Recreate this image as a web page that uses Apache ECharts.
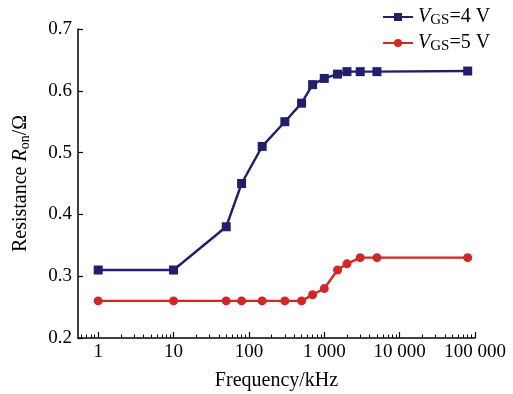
<!DOCTYPE html>
<html><head><meta charset="utf-8">
<script src="https://cdn.jsdelivr.net/npm/echarts@6/dist/echarts.min.js"></script>
<style>html,body{margin:0;padding:0;background:#fff}#c{width:513px;height:394px}</style>
</head><body><div id="c"></div>
<script>
const freqs = [1, 10, 50, 80, 150, 300, 500, 700, 1000, 1500, 2000, 3000, 5000, 80000];
const vgs4 = [0.31, 0.31, 0.38, 0.45, 0.51, 0.55, 0.58, 0.61, 0.62, 0.627, 0.631, 0.631, 0.631, 0.632];
const vgs5 = [0.26, 0.26, 0.26, 0.26, 0.26, 0.26, 0.26, 0.27, 0.28, 0.31, 0.32, 0.33, 0.33, 0.33];
const xMajor = [1, 10, 100, 1000, 10000, 100000];
const xLabels = ['1', '10', '100', '1 000', '10 000', '100 000'];
const yTicks = [0.2, 0.3, 0.4, 0.5, 0.6, 0.7];

const xMinor = [];
[0.1, 1, 10, 100, 1000, 10000].forEach(d => { for (let k = 2; k <= 9; k++) { const v = +(d * k).toPrecision(3); if (v > 0.55) xMinor.push(v); } });

const FONT = 'Liberation Serif';
const chart = echarts.init(document.getElementById('c'));
const labelMap = {}; xMajor.forEach((v, i) => labelMap[v] = xLabels[i]);
const legRich = {
  i: { fontFamily: FONT, fontSize: 20, fontStyle: 'italic', color: '#000' },
  s: { fontFamily: FONT, fontSize: 15, color: '#000', padding: [7, 0, 0, 0] },
  n: { fontFamily: FONT, fontSize: 20, color: '#000' }
};
const titleRich = {
  i: { fontFamily: FONT, fontSize: 20, fontStyle: 'italic', color: '#000' },
  s: { fontFamily: FONT, fontSize: 14, color: '#000', padding: [8, 0, 0, 0] },
  n: { fontFamily: FONT, fontSize: 20, color: '#000' }
};
const mk = (data) => freqs.map((f, i) => [f, data[i]]);
chart.setOption({
  animation: false,
  grid: { left: 78, right: 38, top: 29, bottom: 56, containLabel: false, outerBoundsMode: 'none' },
  legend: {
    orient: 'vertical', left: 377, top: 2, itemWidth: 30, itemHeight: 10, itemGap: 5,
    textStyle: { rich: legRich },
    formatter: name => name === 's4' ? '{i|V}{s|GS}{n|=4 V}' : '{i|V}{s|GS}{n|=5 V}',
    data: ['s4', 's5']
  },
  xAxis: [{
    type: 'log', logBase: 10, min: 0.54, max: 100000,
    name: 'Frequency/kHz', nameLocation: 'middle', nameGap: 33,
    nameTextStyle: { fontFamily: FONT, fontSize: 20, color: '#000' },
    axisLine: { lineStyle: { color: '#000', width: 1.5 } },
    axisTick: { inside: true, length: 6, customValues: xMajor, lineStyle: { color: '#000', width: 1.2 } },
    axisLabel: { customValues: xMajor, formatter: v => labelMap[Math.round(v)] || '', fontFamily: FONT, fontSize: 19, color: '#000', margin: 5 },
    splitLine: { show: false }, minorTick: { show: false }
  }, {
    type: 'log', logBase: 10, min: 0.54, max: 100000, position: 'bottom',
    axisLine: { show: false },
    axisTick: { inside: true, length: 3.5, customValues: xMinor, lineStyle: { color: '#000', width: 1 } },
    axisLabel: { show: false }, splitLine: { show: false }
  }],
  yAxis: {
    type: 'value', min: 0.2, max: 0.7, interval: 0.1,
    name: '{n|Resistance }{i|R}{s|on}{n|/Ω}', nameLocation: 'middle', nameGap: 46, nameRotate: 90,
    nameTextStyle: { rich: titleRich },
    axisLine: { show: true, lineStyle: { color: '#000', width: 1.5 } },
    axisTick: { inside: true, length: 5, lineStyle: { color: '#000', width: 1.2 } },
    axisLabel: { formatter: v => v.toFixed(1), fontFamily: FONT, fontSize: 19, color: '#000', margin: 6 },
    splitLine: { show: false }
  },
  series: [
    { name: 's4', type: 'line', data: mk(vgs4), symbol: 'rect', symbolSize: 9,
      itemStyle: { color: '#1f1f6e' }, lineStyle: { color: '#1f1f6e', width: 2.4 } },
    { name: 's5', type: 'line', data: mk(vgs5), symbol: 'circle', symbolSize: 9,
      itemStyle: { color: '#d02828' }, lineStyle: { color: '#d02828', width: 2.4 } }
  ]
});
</script></body></html>
